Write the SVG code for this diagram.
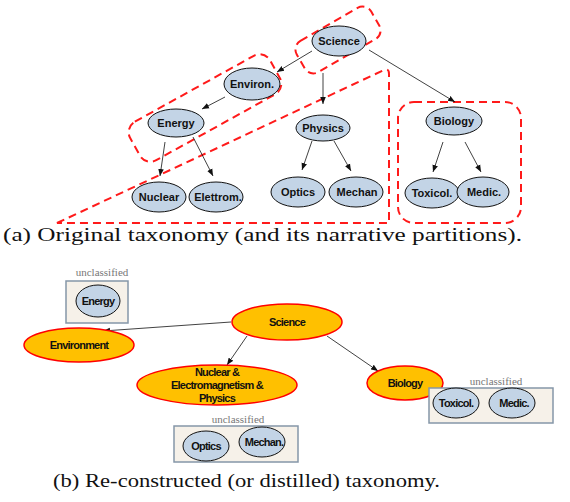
<svg xmlns="http://www.w3.org/2000/svg" width="570" height="502" viewBox="0 0 570 502">
<style>
.na{fill:#c3d4e6;stroke:#111;stroke-width:1}
.ta{font-family:"Liberation Sans",Arial,sans-serif;font-weight:bold;font-size:11px;fill:#111;text-anchor:middle}
.nb{fill:#ffc000;stroke:#ff0000;stroke-width:1.5}
.tb{font-family:"Liberation Sans",Arial,sans-serif;font-weight:bold;font-size:11px;letter-spacing:-0.8px;fill:#111;text-anchor:middle}
.ub{fill:#c3d4e6;stroke:#111;stroke-width:1}
.box{fill:#f6f1e9;stroke:#8596a8;stroke-width:1.5}
.uncl{font-family:"Liberation Serif",serif;font-size:11px;fill:#777;text-anchor:middle}
.part{fill:none;stroke:#ff1a1a;stroke-width:2;stroke-dasharray:8,5}
.edge{fill:none;stroke:#111;stroke-width:0.8;marker-end:url(#ah)}
.cap{font-family:"Liberation Serif","Times New Roman",serif;font-size:18px;fill:#111}
</style>
<defs>
<marker id="ah" viewBox="0 0 10 10" refX="10" refY="5" markerWidth="7" markerHeight="7" markerUnits="userSpaceOnUse" orient="auto">
<path d="M0,1 L10,5 L0,9 z" fill="#111"/>
</marker>
</defs>

<g id="partitions">
<rect class="part" x="295" y="22" width="86" height="36" rx="10" transform="rotate(-30 338 40)"/>
<rect class="part" x="125" y="86" width="160" height="44" rx="12" transform="rotate(-29 205 108)"/>
<path class="part" d="M57,223 L384,70 Q389,68 389,74 L389,223 Z"/>
<rect class="part" x="398" y="102" width="123" height="121" rx="16"/>
</g>

<g id="connectors-a">
<line class="edge" x1="312" y1="51" x2="277" y2="72"/>
<line class="edge" x1="323" y1="73" x2="323" y2="104"/>
<line class="edge" x1="369" y1="50" x2="455" y2="102"/>
<line class="edge" x1="225" y1="97" x2="202" y2="109"/>
<line class="edge" x1="165" y1="142" x2="160" y2="176"/>
<line class="edge" x1="193" y1="137" x2="213" y2="176"/>
<line class="edge" x1="312" y1="141" x2="302" y2="170"/>
<line class="edge" x1="334" y1="141" x2="351" y2="171"/>
<line class="edge" x1="443" y1="142" x2="433" y2="172"/>
<line class="edge" x1="465" y1="142" x2="481" y2="172"/>
</g>

<g id="a-science"><ellipse class="na" cx="339" cy="41" rx="27" ry="15"/><text class="ta" x="339" y="45">Science</text></g>
<g id="a-environ"><ellipse class="na" cx="252" cy="84" rx="28" ry="16"/><text class="ta" x="252" y="88">Environ.</text></g>
<g id="a-energy"><ellipse class="na" cx="176" cy="123" rx="28" ry="14"/><text class="ta" x="176" y="127">Energy</text></g>
<g id="a-physics"><ellipse class="na" cx="323" cy="128" rx="27" ry="13"/><text class="ta" x="323" y="132">Physics</text></g>
<g id="a-nuclear"><ellipse class="na" cx="159" cy="197" rx="27" ry="15"/><text class="ta" x="159" y="201">Nuclear</text></g>
<g id="a-elettrom"><ellipse class="na" cx="216" cy="197" rx="27" ry="15"/><text class="ta" x="218" y="201">Elettrom.</text></g>
<g id="a-optics"><ellipse class="na" cx="298" cy="192" rx="27" ry="15"/><text class="ta" x="298" y="196">Optics</text></g>
<g id="a-mechan"><ellipse class="na" cx="356" cy="192" rx="27" ry="15"/><text class="ta" x="357" y="196">Mechan</text></g>
<g id="a-biology"><ellipse class="na" cx="454" cy="121" rx="28" ry="14"/><text class="ta" x="454" y="125">Biology</text></g>
<g id="a-toxicol"><ellipse class="na" cx="432" cy="193" rx="27" ry="15"/><text class="ta" x="432" y="197">Toxicol.</text></g>
<g id="a-medic"><ellipse class="na" cx="483" cy="192" rx="26" ry="15"/><text class="ta" x="484" y="196">Medic.</text></g>

<text class="cap" x="3" y="241" textLength="519" lengthAdjust="spacingAndGlyphs">(a) Original taxonomy (and its narrative partitions).</text>

<g id="b-unclassified-energy">
<text class="uncl" x="102" y="276">unclassified</text>
<rect class="box" x="66" y="281" width="62" height="42"/>
<ellipse class="ub" cx="98" cy="301" rx="22" ry="16"/><text class="tb" x="98" y="305">Energy</text>
</g>

<g id="connectors-b">
<line class="edge" x1="231" y1="322" x2="103" y2="331"/>
<line class="edge" x1="247" y1="336" x2="227" y2="365"/>
<line class="edge" x1="327" y1="336" x2="378" y2="371"/>
</g>

<g id="b-environment"><ellipse class="nb" cx="79" cy="345" rx="55" ry="17"/><text class="tb" x="79" y="349">Environment</text></g>
<g id="b-science"><ellipse class="nb" cx="287" cy="322" rx="55" ry="18"/><text class="tb" x="287" y="326">Science</text></g>
<g id="b-nuclear-physics"><ellipse class="nb" cx="217" cy="385" rx="80" ry="20"/>
<text class="tb" x="217" y="376">Nuclear &amp;</text>
<text class="tb" x="217" y="389">Electromagnetism &amp;</text>
<text class="tb" x="217" y="402">Physics</text></g>
<g id="b-biology"><ellipse class="nb" cx="405" cy="383" rx="38" ry="17"/><text class="tb" x="405" y="387">Biology</text></g>

<g id="b-unclassified-bio">
<text class="uncl" x="496" y="385">unclassified</text>
<rect class="box" x="429" y="388" width="124" height="35"/>
<ellipse class="ub" cx="456" cy="403" rx="23" ry="15"/><text class="tb" x="456" y="407">Toxicol.</text>
<ellipse class="ub" cx="512" cy="403" rx="23" ry="15"/><text class="tb" x="514" y="407">Medic.</text>
</g>

<g id="b-unclassified-phys">
<text class="uncl" x="238" y="423">unclassified</text>
<rect class="box" x="174" y="426" width="124" height="36"/>
<ellipse class="ub" cx="206" cy="446" rx="23" ry="15"/><text class="tb" x="206" y="450">Optics</text>
<ellipse class="ub" cx="262" cy="442" rx="23" ry="15"/><text class="tb" x="264" y="446">Mechan.</text>
</g>

<text class="cap" x="53" y="487" textLength="387" lengthAdjust="spacingAndGlyphs">(b) Re-constructed (or distilled) taxonomy.</text>
</svg>
